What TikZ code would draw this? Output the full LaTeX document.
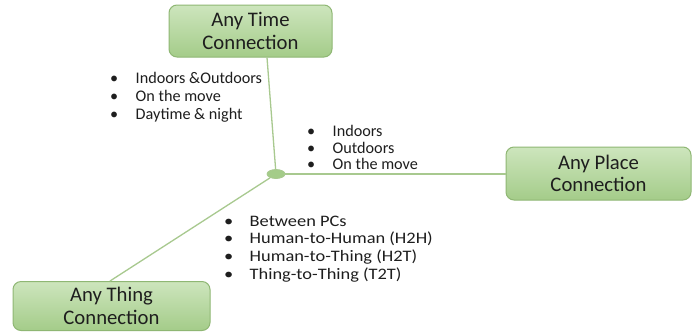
\documentclass[tikz,border=0pt]{standalone}
\usepackage{fontspec}
\setmainfont{Carlito}
\newfontfamily\widecarlito[FakeStretch=1.15]{Carlito}
\usetikzlibrary{shapes.geometric,calc}
\definecolor{boxtop}{HTML}{CDE5BD}
\definecolor{boxbot}{HTML}{A4CC89}
\definecolor{boxedge}{HTML}{8FB774}
\definecolor{linkcol}{HTML}{A8C98F}
\definecolor{inkcol}{HTML}{1E1E1E}
\newcommand{\bitem}[1]{\makebox[25.5pt][l]{\textbullet}#1}
\begin{document}
\begin{tikzpicture}[x=1pt,y=-1pt,
  conbox/.style={draw=boxedge, line width=1pt, rounded corners=8pt,
    top color=boxtop, bottom color=boxbot, align=center,
    text=inkcol, font=\fontsize{20.7}{22.5}\selectfont, inner sep=0pt},
  bullets/.style={anchor=north west, inner sep=0pt, align=left, text=inkcol},
  link/.style={draw=linkcol, line width=1.3pt}]
\useasboundingbox (0,0) rectangle (693,333);
\clip (0,0) rectangle (693,333);
\fill[white] (0,0) rectangle (693,333);

% three connection boxes
\node[conbox, minimum width=163pt, minimum height=52pt] (time) at (250.5,31)
  {Any Time\\Connection};
\node[conbox, minimum width=185pt, minimum height=53pt] (place) at (598.5,173.5)
  {Any Place\\Connection};
\node[conbox, minimum width=197pt, minimum height=49pt] (thing) at (111.5,306)
  {Any Thing\\Connection};

% central hub
\node[ellipse, draw=linkcol, fill=boxbot, line width=0.8pt,
  minimum width=18pt, minimum height=9pt, inner sep=0pt] (hub) at (276,174) {};

% connectors
\draw[link] ($(time.south)+(16.5,0)$) -- (hub);
\draw[link] (hub.east) -- (place.west |- hub.east);
\draw[link] (hub) -- ($(thing.north)+(-1.5,0)$);

% bullet lists
\node[bullets, font=\fontsize{16.2}{18.2}\selectfont] (timelist) at (110,72)
  {\bitem{Indoors \&Outdoors}\\\bitem{On the move}\\\bitem{Daytime \& night}};
\node[bullets, font=\fontsize{16.2}{16.6}\selectfont] (placelist) at (307,125)
  {\bitem{Indoors}\\\bitem{Outdoors}\\\bitem{On the move}};
\node[bullets, font=\widecarlito\fontsize{16}{17.7}\selectfont] (thinglist) at (224,215.5)
  {\bitem{Between PCs}\\\bitem{Human-to-Human (H2H)}\\\bitem{Human-to-Thing (H2T)}\\\bitem{Thing-to-Thing (T2T)}};
\end{tikzpicture}
\end{document}
